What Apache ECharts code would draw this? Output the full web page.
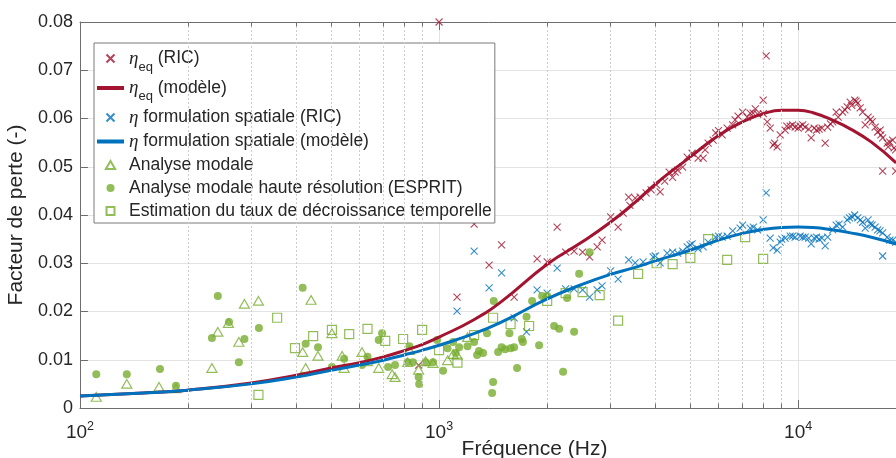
<!DOCTYPE html>
<html>
<head>
<meta charset="utf-8">
<title>Facteur de perte</title>
<script src="https://cdn.jsdelivr.net/npm/echarts@6/dist/echarts.min.js"></script>
<style>
  html, body { margin: 0; padding: 0; background: #fff; }
  #chart { width: 896px; height: 458px; }
</style>
</head>
<body>
<div id="chart"></div>
<script>
// legend / series names
const names = [
  'η_eq (RIC)',
  'η_eq (modèle)',
  'η formulation spatiale (RIC)',
  'η formulation spatiale (modèle)',
  'Analyse modale',
  'Analyse modale haute résolution (ESPRIT)',
  'Estimation du taux de décroissance temporelle'
];

// [frequency Hz, loss factor]
const redModel = [
  [100, 0.0025], [150, 0.0031], [200, 0.0037], [300, 0.0052], [400, 0.0068],
  [500, 0.0083], [600, 0.0094], [700, 0.0106], [800, 0.0119], [900, 0.0132],
  [1000, 0.0147], [1250, 0.0183], [1500, 0.0222], [2000, 0.0298], [2500, 0.0344],
  [3000, 0.0385], [3500, 0.0425], [4000, 0.0464], [5000, 0.0520], [6000, 0.0565],
  [7000, 0.0593], [8000, 0.0610], [9000, 0.0617], [10000, 0.0617], [11000, 0.0612],
  [12500, 0.0596], [14000, 0.0578], [16000, 0.0551], [18750, 0.0508]
];

const blueModel = [
  [100, 0.0025], [150, 0.0031], [200, 0.0037], [300, 0.0050], [400, 0.0064],
  [500, 0.0078], [600, 0.0089], [700, 0.0099], [800, 0.0110], [900, 0.0120],
  [1000, 0.0130], [1250, 0.0154], [1500, 0.0179], [2000, 0.0226], [2500, 0.0256],
  [3000, 0.0277], [3500, 0.0291], [4000, 0.0305], [5000, 0.0327], [6000, 0.0348],
  [7000, 0.0362], [8000, 0.0370], [9000, 0.0374], [10000, 0.0375], [11000, 0.0374],
  [12500, 0.0369], [14000, 0.0363], [16000, 0.0354], [18750, 0.0340]
];

const redRic = [
  [877, 0.0089], [1000, 0.0800], [1122, 0.0230], [1252, 0.0381], [1378, 0.0296],
  [1493, 0.0338], [1618, 0.0230], [1875, 0.0309], [2000, 0.0303], [2132, 0.0375],
  [2251, 0.0323], [2377, 0.0325], [2510, 0.0323], [2625, 0.0313], [2755, 0.0334],
  [2844, 0.0348], [3005, 0.0396], [3152, 0.0375], [3255, 0.0404], [3372, 0.0437],
  [3400, 0.0420], [3516, 0.0435], [3630, 0.0437], [3772, 0.0446], [3895, 0.0452],
  [4035, 0.0462], [4127, 0.0448], [4250, 0.0470], [4372, 0.0489], [4470, 0.0478],
  [4544, 0.0489], [4617, 0.0493], [4768, 0.0499], [4907, 0.0520], [5067, 0.0528],
  [5265, 0.0518], [5437, 0.0518], [5507, 0.0535], [5614, 0.0549], [5797, 0.0555],
  [5891, 0.0570], [6000, 0.0575], [6143, 0.0566], [6343, 0.0580], [6570, 0.0587],
  [6676, 0.0597], [6800, 0.0605], [7005, 0.0613], [7210, 0.0603], [7350, 0.0611],
  [7492, 0.0611], [7600, 0.0620], [7711, 0.0609], [7989, 0.0638], [8000, 0.0610],
  [8144, 0.0730], [8200, 0.0593], [8356, 0.0580], [8518, 0.0545], [8600, 0.0549],
  [8740, 0.0541], [8910, 0.0566], [9200, 0.0576], [9300, 0.0584], [9500, 0.0584],
  [9650, 0.0587], [9809, 0.0582], [10000, 0.0580], [10128, 0.0584], [10300, 0.0587],
  [10460, 0.0582], [10700, 0.0578], [10870, 0.0560], [11080, 0.0580], [11250, 0.0576],
  [11440, 0.0578], [11650, 0.0580], [11890, 0.0549], [12080, 0.0582], [12300, 0.0589],
  [12480, 0.0593], [12760, 0.0613], [12930, 0.0603], [13300, 0.0613], [13500, 0.0618],
  [13690, 0.0624], [13960, 0.0634], [14100, 0.0627], [14370, 0.0638], [14500, 0.0636],
  [14650, 0.0632], [14880, 0.0622], [15120, 0.0613], [15370, 0.0587], [15660, 0.0603],
  [15900, 0.0598], [16070, 0.0593], [16380, 0.0582], [16650, 0.0572], [16920, 0.0576],
  [17000, 0.0566], [17190, 0.0560], [17190, 0.0491], [17700, 0.0549], [17810, 0.0541],
  [18000, 0.0551], [18330, 0.0555], [18500, 0.0539], [18690, 0.0535], [18690, 0.0491]
];

const blueRic = [
  [1122, 0.0201], [1252, 0.0325], [1378, 0.0249], [1493, 0.0280], [1618, 0.0187],
  [1752, 0.0158], [1875, 0.0245], [2000, 0.0238], [2132, 0.0290], [2251, 0.0247],
  [2377, 0.0247], [2510, 0.0245], [2625, 0.0230], [2755, 0.0245], [2844, 0.0253],
  [3005, 0.0284], [3152, 0.0267], [3372, 0.0307], [3516, 0.0301], [3700, 0.0303],
  [3946, 0.0313], [4000, 0.0315], [4127, 0.0301], [4316, 0.0321], [4471, 0.0323],
  [4617, 0.0321], [4768, 0.0325], [4907, 0.0334], [5000, 0.0338], [5067, 0.0340],
  [5265, 0.0330], [5437, 0.0334], [5614, 0.0344], [5891, 0.0354], [6000, 0.0356],
  [6143, 0.0354], [6343, 0.0356], [6570, 0.0367], [6893, 0.0373], [7005, 0.0379],
  [7350, 0.0373], [7500, 0.0375], [7711, 0.0369], [7989, 0.0390], [8144, 0.0446],
  [8356, 0.0352], [8518, 0.0332], [8740, 0.0327], [8910, 0.0344], [9000, 0.0350],
  [9200, 0.0352], [9500, 0.0356], [9650, 0.0356], [9809, 0.0354], [10128, 0.0356],
  [10300, 0.0354], [10460, 0.0354], [10700, 0.0352], [10870, 0.0340], [11080, 0.0352],
  [11250, 0.0354], [11440, 0.0350], [11650, 0.0352], [11890, 0.0336], [12080, 0.0354],
  [12480, 0.0369], [12760, 0.0379], [13000, 0.0381], [13300, 0.0375], [13690, 0.0390],
  [13900, 0.0394], [14140, 0.0396], [14370, 0.0400], [14650, 0.0394], [14900, 0.0390],
  [15120, 0.0385], [15370, 0.0373], [15660, 0.0390], [15900, 0.0381], [16070, 0.0379],
  [16380, 0.0375], [16650, 0.0369], [16900, 0.0367], [17190, 0.0363], [17190, 0.0315],
  [17700, 0.0354], [18000, 0.0348], [18330, 0.0348], [18690, 0.0344]
];

const modal = [
  [111, 0.0023], [135, 0.0050], [166, 0.0044], [185, 0.0041], [233, 0.0083],
  [242, 0.0158], [259, 0.0176], [277, 0.0137], [287, 0.0216], [314, 0.0222],
  [417, 0.0116], [425, 0.0083], [440, 0.0224], [460, 0.0108], [503, 0.0155],
  [537, 0.0108], [544, 0.0083], [610, 0.0116], [632, 0.0097], [679, 0.0083],
  [740, 0.0070], [754, 0.0064], [817, 0.0095], [827, 0.0120], [877, 0.0079],
  [917, 0.0097], [962, 0.0093], [1056, 0.0099], [1094, 0.0112], [1122, 0.0110],
  [1200, 0.0147]
];

const esprit = [
  [111, 0.0070], [135, 0.0070], [167, 0.0081], [185, 0.0046], [233, 0.0145],
  [242, 0.0232], [260, 0.0178], [277, 0.0095], [287, 0.0143], [315, 0.0166],
  [417, 0.0249], [425, 0.0133], [460, 0.0126], [503, 0.0085], [544, 0.0102],
  [610, 0.0089], [632, 0.0106], [679, 0.0141], [694, 0.0155], [721, 0.0085],
  [754, 0.0089], [817, 0.0095], [827, 0.0128], [846, 0.0095], [877, 0.0064],
  [880, 0.0050], [917, 0.0095], [962, 0.0095], [987, 0.0141], [1026, 0.0077],
  [1056, 0.0124], [1094, 0.0137], [1112, 0.0114], [1137, 0.0126], [1200, 0.0128],
  [1252, 0.0137], [1276, 0.0110], [1292, 0.0118], [1326, 0.0114], [1360, 0.0155],
  [1405, 0.0031], [1414, 0.0054], [1420, 0.0222], [1460, 0.0116], [1493, 0.0126],
  [1527, 0.0122], [1570, 0.0155], [1582, 0.0124], [1618, 0.0126], [1649, 0.0083],
  [1700, 0.0143], [1712, 0.0137], [1752, 0.0189], [1816, 0.0222], [1899, 0.0130],
  [1936, 0.0232], [2000, 0.0232], [2091, 0.0170], [2159, 0.0164], [2215, 0.0075],
  [2273, 0.0228], [2377, 0.0158], [2455, 0.0278], [2625, 0.0323]
];

const decay = [
  [314, 0.0027], [354, 0.0187], [397, 0.0124], [446, 0.0149], [503, 0.0162],
  [562, 0.0153], [632, 0.0164], [708, 0.0139], [794, 0.0143], [897, 0.0162],
  [1000, 0.0120], [1125, 0.0094], [1252, 0.0151], [1414, 0.0187], [1582, 0.0174],
  [1781, 0.0170], [2000, 0.0222], [2251, 0.0238], [2510, 0.0240], [2800, 0.0234],
  [3152, 0.0181], [3584, 0.0278], [4035, 0.0300], [4471, 0.0298], [5010, 0.0311],
  [5614, 0.0350], [6343, 0.0307], [7118, 0.0354], [7989, 0.0309]
];

const minorTicks = [200, 300, 400, 500, 600, 700, 800, 900,
  2000, 3000, 4000, 5000, 6000, 7000, 8000, 9000, 20000, 30000];

const xMin = 100, xMax = 34000;
const yMin = 0, yMax = 0.08, yStep = 0.01;

const FONT = '"Liberation Sans", Arial, Helvetica, sans-serif';
const SERIF = '"Liberation Serif", "DejaVu Serif", serif';
const TXT = '#262626';
const AXIS = '#6e6e6e';
const RED = '#A2142F', BLUE = '#0072BD', GREEN = '#77AC30';
// path symbols keep their aspect in the legend too
const cross = 'path://M0,0L10,10M10,0L0,10';
const triangle = 'path://M5,0L10,8.66L0,8.66Z';
const square = 'path://M0,0L10,0L10,10L0,10Z';
const minorLen = 0.0009;

const legendText = {};
legendText[names[0]] = '{eta|η}{sub|eq} (RIC)';
legendText[names[1]] = '{eta|η}{sub|eq} (modèle)';
legendText[names[2]] = '{eta|η} formulation spatiale (RIC)';
legendText[names[3]] = '{eta|η} formulation spatiale (modèle)';

// line entries of the legend: plain line, no symbol
const legendData = names.map((n, i) => (i === 1 || i === 3)
  ? { name: n, itemStyle: { opacity: 0 }, lineStyle: { width: 4 } }
  : { name: n });

const chart = echarts.init(document.getElementById('chart'));

const option = {
  animation: false,
  backgroundColor: '#fff',
  textStyle: { fontFamily: FONT },
  grid: { left: 80, top: 22, width: 909, height: 386, outerBoundsMode: 'none', containLabel: false },
  legend: {
    orient: 'vertical',
    left: 94,
    top: 43,
    padding: [6, 3, 3, 1],
    itemGap: 5,
    itemWidth: 27,
    itemHeight: 8,
    symbolKeepAspect: true,
    backgroundColor: '#fff',
    borderColor: '#7a7a7a',
    borderWidth: 1,
    borderRadius: 0,
    selectedMode: false,
    data: legendData,
    formatter: function (name) { return legendText[name] || name; },
    textStyle: {
      fontFamily: FONT, fontSize: 17.5, color: TXT,
      rich: {
        eta: { fontFamily: SERIF, fontStyle: 'italic', fontSize: 19, color: TXT, lineHeight: 23 },
        sub: { fontFamily: FONT, fontSize: 13, color: TXT, padding: [17, 0, 0, 0] }
      }
    }
  },
  xAxis: [{
    type: 'log',
    logBase: 10,
    min: xMin,
    max: xMax,
    name: 'Fréquence (Hz)',
    nameLocation: 'middle',
    nameGap: 31,
    nameMoveOverlap: false,
    nameTextStyle: { fontFamily: FONT, fontSize: 21, color: TXT },
    axisLine: { lineStyle: { color: AXIS, width: 1 } },
    axisTick: { inside: true, length: 8, lineStyle: { color: AXIS } },
    splitLine: { show: true, lineStyle: { color: '#e3e3e3', width: 1 } },
    axisLabel: {
      margin: 12,
      showMaxLabel: false,
      formatter: function (v) {
        return '{b|10}{s|' + Math.round(Math.log10(v)) + '}';
      },
      rich: {
        b: { fontFamily: FONT, fontSize: 19, color: TXT, verticalAlign: 'bottom' },
        s: { fontFamily: FONT, fontSize: 12.5, color: TXT, verticalAlign: 'bottom', padding: [0, 0, 9, 0] }
      }
    }
  }, {
    type: 'log',
    logBase: 10,
    min: xMin,
    max: xMax,
    position: 'top',
    axisLine: { lineStyle: { color: AXIS, width: 1 } },
    axisTick: { inside: true, length: 8, lineStyle: { color: AXIS } },
    axisLabel: { show: false },
    splitLine: { show: false }
  }],
  yAxis: {
    type: 'value',
    min: yMin,
    max: yMax,
    interval: yStep,
    name: 'Facteur de perte (-)',
    nameLocation: 'middle',
    nameGap: 48,
    nameTextStyle: { fontFamily: FONT, fontSize: 21, color: TXT },
    axisLine: { show: true, lineStyle: { color: AXIS, width: 1 } },
    axisTick: { show: true, inside: true, length: 8, lineStyle: { color: AXIS } },
    splitLine: { show: true, lineStyle: { color: '#e3e3e3', width: 1 } },
    axisLabel: {
      margin: 7,
      fontFamily: FONT,
      fontSize: 18,
      color: TXT,
      formatter: function (v) { return v === 0 ? '0' : v.toFixed(2); }
    }
  },
  series: [
    {
      // minor grid lines of the log axis
      type: 'line',
      data: [],
      silent: true,
      markLine: {
        silent: true,
        symbol: ['none', 'none'],
        label: { show: false },
        lineStyle: { color: '#cccccc', width: 1, type: [2, 2] },
        data: minorTicks.map(v => ({ xAxis: v }))
      }
    },
    {
      // minor ticks, bottom and top
      type: 'line',
      data: [],
      silent: true,
      markLine: {
        silent: true,
        symbol: ['none', 'none'],
        label: { show: false },
        lineStyle: { color: AXIS, width: 1, type: 'solid' },
        data: minorTicks.map(v => [{ coord: [v, yMin] }, { coord: [v, yMin + minorLen] }])
          .concat(minorTicks.map(v => [{ coord: [v, yMax] }, { coord: [v, yMax - minorLen] }]))
      }
    },
    {
      name: names[0],
      type: 'scatter',
      data: redRic,
      symbol: cross,
      symbolSize: 7,
      symbolKeepAspect: true,
      itemStyle: { color: 'none', borderColor: RED, borderWidth: 1.1 }
    },
    {
      name: names[1],
      type: 'line',
      data: redModel,
      smooth: true,
      symbol: 'none',
      showSymbol: false,
      lineStyle: { color: RED, width: 3 },
      itemStyle: { color: RED }
    },
    {
      name: names[2],
      type: 'scatter',
      data: blueRic,
      symbol: cross,
      symbolSize: 7,
      symbolKeepAspect: true,
      itemStyle: { color: 'none', borderColor: BLUE, borderWidth: 1.1 }
    },
    {
      name: names[3],
      type: 'line',
      data: blueModel,
      smooth: true,
      symbol: 'none',
      showSymbol: false,
      lineStyle: { color: BLUE, width: 3 },
      itemStyle: { color: BLUE }
    },
    {
      name: names[4],
      type: 'scatter',
      data: modal,
      symbol: triangle,
      symbolSize: 10,
      symbolKeepAspect: true,
      itemStyle: { color: 'none', borderColor: GREEN, borderWidth: 1.2 }
    },
    {
      name: names[5],
      type: 'scatter',
      data: esprit,
      symbol: 'circle',
      symbolSize: 8,
      itemStyle: { color: GREEN }
    },
    {
      name: names[6],
      type: 'scatter',
      data: decay,
      symbol: square,
      symbolSize: 9,
      symbolKeepAspect: true,
      itemStyle: { color: 'none', borderColor: GREEN, borderWidth: 1.2 }
    }
  ]
};

chart.setOption(option);
</script>
</body>
</html>
